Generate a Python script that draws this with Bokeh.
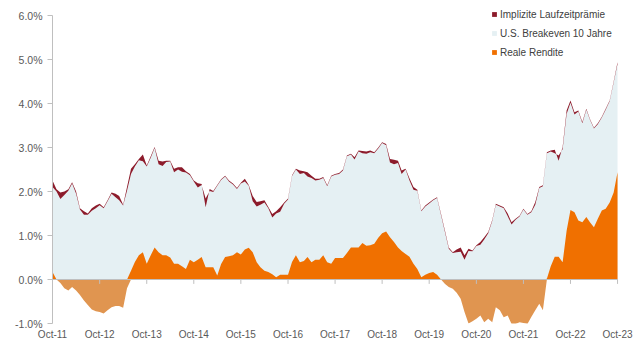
import numpy as np
import pandas as pd
from bokeh.plotting import figure
from bokeh.models import (Range1d, FixedTicker, DatetimeTickFormatter, PrintfTickFormatter,
                          Legend, LegendItem, Label, ColumnDataSource)
from bokeh.embed import file_html
from bokeh.resources import INLINE

# ---------------- data (monthly, Oct 2011 .. Oct 2023) ----------------
months = pd.date_range("2011-10-01", "2023-10-01", freq="MS")

# nominal 10y yield (top of the dark-red band), in %
nominal = [
    2.25, 2.05, 1.98, 2.00, 2.05, 2.21, 2.00, 1.62, 1.55, 1.50, 1.62, 1.68,   # Oct11-Sep12
    1.72, 1.64, 1.80, 1.98, 1.95, 1.90, 1.70, 2.10, 2.52, 2.62, 2.74, 2.84,   # Oct12-Sep13
    2.59, 2.80, 3.01, 2.70, 2.68, 2.70, 2.70, 2.52, 2.55, 2.55, 2.46, 2.40,   # Oct13-Sep14
    2.25, 2.19, 2.17, 1.64, 2.06, 2.01, 2.15, 2.28, 2.36, 2.25, 2.18, 2.08,   # Oct14-Sep15
    2.20, 2.29, 2.15, 1.90, 1.76, 1.78, 1.80, 1.65, 1.49, 1.55, 1.64, 1.75,   # Oct15-Sep16
    1.84, 2.37, 2.52, 2.48, 2.46, 2.44, 2.36, 2.29, 2.29, 2.33, 2.14, 2.36,   # Oct16-Sep17
    2.40, 2.42, 2.50, 2.82, 2.86, 2.78, 2.93, 2.92, 2.91, 2.93, 2.89, 3.00,   # Oct17-Sep18
    3.12, 3.08, 2.74, 2.72, 2.70, 2.48, 2.52, 2.30, 2.10, 2.04, 1.57, 1.68,   # Oct18-Sep19
    1.75, 1.82, 1.87, 1.49, 1.10, 0.73, 0.62, 0.68, 0.73, 0.55, 0.70, 0.66,   # Oct19-Sep20
    0.78, 0.85, 0.96, 1.08, 1.35, 1.72, 1.68, 1.64, 1.50, 1.30, 1.38, 1.45,   # Oct20-Sep21
    1.61, 1.49, 1.55, 1.76, 2.10, 2.14, 2.89, 2.93, 2.95, 2.70, 3.01, 3.84,   # Oct21-Sep22
    4.07, 3.80, 3.84, 3.58, 3.88, 3.65, 3.45, 3.55, 3.70, 3.88, 4.07, 4.50,   # Oct22-Sep23
    4.94,                                                                     # Oct23
]

# implied term premium (thickness of the dark-red band), in %
laufzeitpraemie = [
    0.15, 0.05, 0.15, 0.08, 0.03, 0.03, 0.05, 0.03, 0.08, 0.03, 0.06, 0.06,
    0.03, 0.02, 0.02, 0.03, 0.08, 0.10, 0.02, 0.08, 0.12, 0.05, 0.03, 0.15,
    0.02, 0.03, 0.02, 0.08, 0.10, 0.03, 0.02, 0.08, 0.05, 0.10, 0.03, 0.03,
    0.02, 0.10, 0.02, -0.20, 0.05, 0.02, 0.02, 0.02, 0.02, 0.02, 0.02, 0.02,
    0.02, 0.06, 0.02, 0.12, 0.10, 0.08, 0.05, 0.03, 0.08, 0.05, 0.10, 0.03,
    0.02, 0.02, 0.02, 0.08, 0.04, 0.10, 0.05, 0.04, 0.02, 0.02, 0.02, 0.02,
    0.02, 0.02, 0.02, 0.02, 0.02, 0.05, 0.02, 0.05, 0.05, 0.04, 0.02, 0.02,
    0.02, 0.03, 0.08, 0.10, 0.05, 0.08, 0.02, 0.05, 0.06, 0.02, 0.02, 0.02,
    0.02, 0.02, 0.02, 0.03, 0.03, 0.03, 0.02, 0.06, 0.10, 0.10, 0.05, 0.02,
    0.02, 0.06, 0.05, 0.03, 0.02, 0.02, 0.02, 0.02, 0.06, 0.05, 0.02, 0.02,
    0.02, 0.02, 0.02, 0.06, 0.02, 0.02, 0.02, 0.02, 0.08, -0.12, 0.05, 0.08,
    0.05, 0.05, 0.02, 0.03, 0.02, 0.02, 0.02, 0.02, 0.02, 0.02, 0.02, 0.02,
    0.04,
]

# real yield (10y TIPS), in %
reale_rendite = [
    0.17, 0.00, -0.08, -0.20, -0.25, -0.17, -0.25, -0.35, -0.48, -0.58, -0.68, -0.72,
    -0.74, -0.77, -0.70, -0.63, -0.60, -0.60, -0.64, -0.20, 0.20, 0.40, 0.55, 0.62,
    0.36, 0.55, 0.73, 0.62, 0.55, 0.55, 0.50, 0.36, 0.36, 0.30, 0.24, 0.45,
    0.39, 0.45, 0.51, 0.28, 0.28, 0.28, 0.09, 0.35, 0.51, 0.53, 0.55, 0.62,
    0.57, 0.68, 0.72, 0.62, 0.39, 0.28, 0.20, 0.17, 0.12, 0.05, 0.11, 0.11,
    0.11, 0.40, 0.55, 0.39, 0.42, 0.51, 0.39, 0.45, 0.45, 0.55, 0.39, 0.36,
    0.49, 0.49, 0.49, 0.60, 0.73, 0.73, 0.73, 0.83, 0.77, 0.78, 0.81, 0.95,
    1.05, 1.09, 0.96, 0.85, 0.73, 0.65, 0.58, 0.52, 0.36, 0.24, 0.05, 0.11,
    0.15, 0.17, 0.11, 0.00, -0.10, -0.17, -0.21, -0.30, -0.44, -0.74, -1.00, -0.95,
    -0.89, -0.82, -0.97, -0.89, -0.97, -0.63, -0.70, -0.86, -0.82, -1.01, -1.01, -0.97,
    -0.99, -1.01, -0.85, -0.70, -0.55, -0.70, 0.02, 0.30, 0.52, 0.52, 0.39, 1.11,
    1.58, 1.53, 1.34, 1.30, 1.42, 1.30, 1.19, 1.38, 1.57, 1.61, 1.75, 1.98,
    2.44,
]

tick_years = list(range(2011, 2024))
y_ticks = [-1, 0, 1, 2, 3, 4, 5, 6]

series_names = ["Implizite Laufzeitprämie", "U.S. Breakeven 10 Jahre", "Reale Rendite"]

# ---------------- derived ----------------
nom = np.array(nominal)
be = nom - np.array(laufzeitpraemie)
rr = np.array(reale_rendite)
src = ColumnDataSource(dict(
    x=months, zero=np.zeros(len(months)), nom=nom, be=be,
    pos=np.maximum(rr, 0), neg=np.minimum(rr, 0),
))
tick_dates = [pd.Timestamp(f"{y}-10-01") for y in tick_years]
tick_ms = [t.value // 10**6 for t in tick_dates]

FONT = "Liberation Sans"
GREY = "#595959"
AXIS = "#BFBFBF"

p = figure(width=640, height=358, x_axis_type="datetime",
           x_range=Range1d(pd.Timestamp("2011-10-01"), pd.Timestamp("2023-10-24")),
           y_range=Range1d(-1, 6.16),
           output_backend="svg", toolbar_location=None,
           min_border_left=52, min_border_right=20, min_border_top=8, min_border_bottom=35)
p.outline_line_color = None
p.xgrid.visible = False
p.ygrid.visible = False
p.background_fill_color = "white"

r_be = p.varea(x="x", y1="zero", y2="be", source=src, fill_color="#E5F0F3")
r_tp = p.varea(x="x", y1="be", y2="nom", source=src, fill_color="#8C1B2B")
r_pos = p.varea(x="x", y1="zero", y2="pos", source=src, fill_color="#F07000")
r_neg = p.varea(x="x", y1="zero", y2="neg", source=src, fill_color="#E09550")

# zero line with year ticks
p.segment(x0=[tick_dates[0]], y0=[0], x1=[tick_dates[-1]], y1=[0], line_color=AXIS, line_width=1)
p.segment(x0=tick_dates, y0=[0] * len(tick_dates), x1=tick_dates, y1=[-0.1] * len(tick_dates),
          line_color=AXIS, line_width=1)

# y axis
ya = p.yaxis[0]
ya.ticker = FixedTicker(ticks=y_ticks)
ya.formatter = PrintfTickFormatter(format="%.1f%%")
ya.bounds = (-1, 6)
ya.axis_line_color = AXIS
ya.major_tick_line_color = AXIS
ya.major_tick_out = 5
ya.major_tick_in = 0
ya.minor_tick_line_color = None
ya.major_label_standoff = 5
ya.major_label_text_font = FONT
ya.major_label_text_font_size = "10.5px"
ya.major_label_text_color = GREY

# x axis
xa = p.xaxis[0]
xa.ticker = FixedTicker(ticks=tick_ms)
fmt = "%b-%y"
xa.formatter = DatetimeTickFormatter(days=fmt, months=fmt, years=fmt)
xa.axis_line_color = None
xa.major_tick_line_color = None
xa.minor_tick_line_color = None
xa.major_tick_out = 0
xa.major_label_standoff = 5
xa.major_label_text_font = FONT
xa.major_label_text_font_size = "10px"
xa.major_label_text_color = GREY

# axis title
p.add_layout(Label(x=-44, y=2.45, x_units="screen", y_units="data", text="Rendite",
                   angle=np.pi / 2, text_align="center", text_baseline="middle",
                   text_font=FONT, text_font_size="9px", text_font_style="bold",
                   text_color="#404040"))

legend = Legend(items=[LegendItem(label=series_names[0], renderers=[r_tp]),
                       LegendItem(label=series_names[1], renderers=[r_be]),
                       LegendItem(label=series_names[2], renderers=[r_pos])],
                location=(439, 265), orientation="vertical",
                background_fill_alpha=0, border_line_color=None,
                padding=0, margin=0, spacing=7, glyph_width=6, glyph_height=6,
                label_standoff=3, label_height=12,
                label_text_font=FONT, label_text_font_size="10px", label_text_color="#404040")
p.add_layout(legend)

open("out.html", "w").write(file_html(p, INLINE))
